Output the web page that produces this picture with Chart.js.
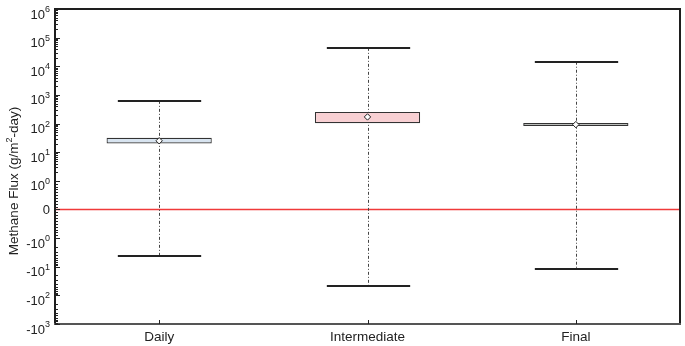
<!DOCTYPE html>
<html>
<head>
<meta charset="utf-8">
<script src="https://cdn.jsdelivr.net/npm/chart.js@4/dist/chart.umd.min.js"></script>
<style>
  body { margin: 0; background: #fff; }
  #wrap { width: 685px; height: 346px; position: relative; }
</style>
</head>
<body>
<div id="wrap"><canvas id="chart"></canvas></div>
<script>
// Данные графика (значения в г/м2-сутки)
const categories = ['Daily', 'Intermediate', 'Final'];
const whiskerLow = [-4.3, -47, -12];
const boxQ1 = [20, 102, 82];
const boxQ3 = [32, 255, 105];
const boxMean = [25, 170, 92];
const whiskerHigh = [620, 44000, 14400];
const yTickValues = [-1000, -100, -10, -1, 0, 1, 10, 100, 1000, 10000, 100000, 1000000];

const boxColors = ['#d8e4f0', '#f8d0d3', '#dfe6df'];
const FONT = '"Liberation Sans", Arial, sans-serif';

// Симметричная лог-шкала: |v|>=1 -> sign*(log10|v|+1), линейно в [-1, 1]
function toAxis(v) {
  if (v === 0) return 0;
  const a = Math.abs(v);
  const s = Math.sign(v);
  return a >= 1 ? s * (Math.log10(a) + 1) : s * a;
}

// Усы, нулевая линия, рамка, деления и подписи оси Y
const fluxPlugin = {
  id: 'fluxPlugin',
  beforeDatasetsDraw(chart) {
    const { ctx, chartArea: a, scales: { x, y } } = chart;
    ctx.save();
    // нулевая линия
    const y0 = y.getPixelForValue(0);
    ctx.strokeStyle = '#f03a3a';
    ctx.lineWidth = 1.6;
    ctx.beginPath();
    ctx.moveTo(a.left, y0);
    ctx.lineTo(a.right, y0);
    ctx.stroke();

    const catW = x.getPixelForValue(1) - x.getPixelForValue(0);
    categories.forEach((c, i) => {
      const cx = Math.round(x.getPixelForValue(i)) + 0.5;
      const yLo = y.getPixelForValue(toAxis(whiskerLow[i]));
      const yHi = y.getPixelForValue(toAxis(whiskerHigh[i]));
      ctx.strokeStyle = '#444';
      ctx.lineWidth = 1;
      ctx.setLineDash([3, 2, 1, 2]);
      ctx.beginPath();
      ctx.moveTo(cx, yHi);
      ctx.lineTo(cx, yLo);
      ctx.stroke();
      ctx.setLineDash([]);
      ctx.strokeStyle = '#222';
      ctx.lineWidth = 2;
      const half = catW * 0.2;
      [yHi, yLo].forEach((py) => {
        ctx.beginPath();
        ctx.moveTo(cx - half, Math.round(py));
        ctx.lineTo(cx + half, Math.round(py));
        ctx.stroke();
      });
    });
    ctx.restore();
  },
  afterDraw(chart) {
    const { ctx, chartArea: a, scales: { x, y } } = chart;
    ctx.save();
    // рамка
    ctx.lineWidth = 2;
    ctx.strokeStyle = '#1e1e1e';
    ctx.beginPath();
    ctx.moveTo(a.left, a.bottom);
    ctx.lineTo(a.left, a.top);
    ctx.lineTo(a.right, a.top);
    ctx.lineTo(a.right, a.bottom);
    ctx.stroke();
    ctx.strokeStyle = '#555';
    ctx.beginPath();
    ctx.moveTo(a.left - 1, a.bottom);
    ctx.lineTo(a.right + 1, a.bottom);
    ctx.stroke();

    // деления оси Y
    ctx.strokeStyle = '#222';
    ctx.lineWidth = 1;
    const tick = (t, len) => {
      const py = Math.round(y.getPixelForValue(t)) + 0.5;
      ctx.beginPath();
      ctx.moveTo(a.left, py);
      ctx.lineTo(a.left + len, py);
      ctx.stroke();
    };
    for (let k = -4; k <= 7; k++) tick(k, 5);
    for (let k = 1; k < 7; k++) {
      for (let m = 2; m <= 9; m++) tick(k + Math.log10(m), 3);
    }
    for (let k = 1; k < 4; k++) {
      for (let m = 2; m <= 9; m++) tick(-(k + Math.log10(m)), 3);
    }
    for (let m = 1; m <= 9; m++) {
      tick(m / 10, 3);
      tick(-m / 10, 3);
    }
    // деления оси X
    categories.forEach((c, i) => {
      const cx = Math.round(x.getPixelForValue(i)) + 0.5;
      ctx.beginPath();
      ctx.moveTo(cx, a.bottom);
      ctx.lineTo(cx, a.bottom - 4);
      ctx.stroke();
    });

    // подписи оси Y со степенями
    ctx.fillStyle = '#222';
    ctx.textAlign = 'right';
    ctx.textBaseline = 'alphabetic';
    const right = a.left - 5;
    yTickValues.forEach((v) => {
      const py = y.getPixelForValue(toAxis(v));
      if (v === 0) {
        ctx.font = '13px ' + FONT;
        ctx.fillText('0', right, py + 4.5);
        return;
      }
      const exp = String(Math.round(Math.log10(Math.abs(v))));
      const base = v < 0 ? '-10' : '10';
      ctx.font = '9px ' + FONT;
      const ew = ctx.measureText(exp).width;
      ctx.fillText(exp, right, py + 3);
      ctx.font = '13px ' + FONT;
      ctx.fillText(base, right - ew, py + 9.5);
    });

    // подпись оси Y
    ctx.translate(14, 181);
    ctx.rotate(-Math.PI / 2);
    ctx.textBaseline = 'middle';
    ctx.textAlign = 'left';
    const p1 = 'Methane Flux (g/m';
    const p2 = '2';
    const p3 = '-day)';
    ctx.font = '13.5px ' + FONT;
    const w1 = ctx.measureText(p1).width;
    const w3 = ctx.measureText(p3).width;
    ctx.font = '9px ' + FONT;
    const w2 = ctx.measureText(p2).width;
    const sx = -(w1 + w2 + w3) / 2;
    ctx.font = '13.5px ' + FONT;
    ctx.fillText(p1, sx, 0);
    ctx.font = '9px ' + FONT;
    ctx.fillText(p2, sx + w1, -4);
    ctx.font = '13.5px ' + FONT;
    ctx.fillText(p3, sx + w1 + w2, 0);
    ctx.restore();
  },
};

const ctx = document.getElementById('chart').getContext('2d');
new Chart(ctx, {
  type: 'bar',
  data: {
    labels: categories,
    datasets: [
      {
        type: 'bar',
        data: categories.map((c, i) => [toAxis(boxQ1[i]), toAxis(boxQ3[i])]),
        backgroundColor: boxColors,
        borderColor: '#333',
        borderWidth: 1.2,
        borderSkipped: false,
        categoryPercentage: 1,
        barPercentage: 0.505,
        order: 2,
      },
      {
        type: 'line',
        data: boxMean.map(toAxis),
        showLine: false,
        pointStyle: 'rectRot',
        pointRadius: 3.2,
        pointBackgroundColor: '#fff',
        pointBorderColor: '#222',
        pointBorderWidth: 1,
        order: 1,
      },
    ],
  },
  options: {
    animation: false,
    responsive: true,
    maintainAspectRatio: false,
    layout: { padding: { top: 9, right: 3, left: 0, bottom: 0 } },
    plugins: { legend: { display: false }, tooltip: { enabled: false } },
    scales: {
      x: {
        grid: { display: false, drawTicks: false },
        border: { display: false },
        ticks: { color: '#222', font: { family: FONT, size: 13.5 }, padding: 5 },
        afterFit: (scale) => { scale.height = 22; },
      },
      y: {
        min: -4,
        max: 7,
        grid: { display: false, drawTicks: false },
        border: { display: false },
        ticks: { display: false },
        afterFit: (scale) => { scale.width = 55; },
      },
    },
  },
  plugins: [fluxPlugin],
});
</script>
</body>
</html>
